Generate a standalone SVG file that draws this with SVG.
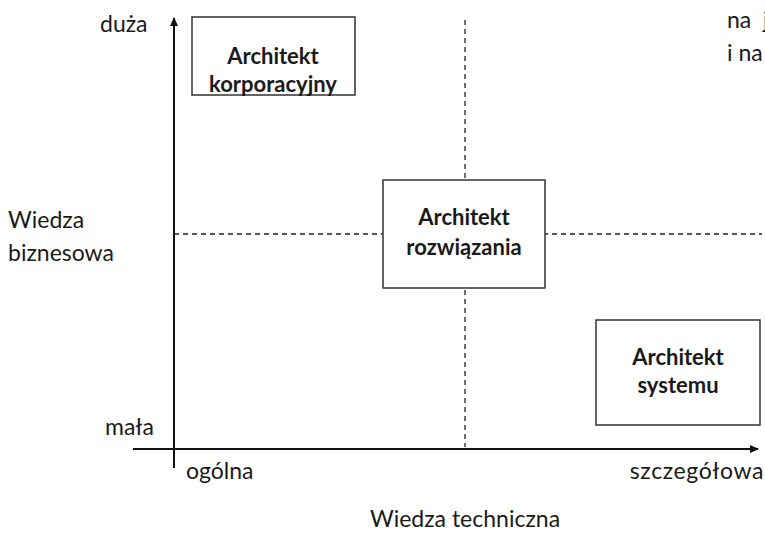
<svg xmlns="http://www.w3.org/2000/svg" width="765" height="533" viewBox="0 0 765 533">
<defs>
<style>
.lbl{font-family:Lato,"Open Sans","Liberation Sans",sans-serif;font-size:23px;fill:#1a1a1a}
.bt{font-family:Lato,"Open Sans","Liberation Sans",sans-serif;font-size:22px;font-weight:bold;fill:#1a1a1a;text-anchor:middle}
.box{fill:#fff;stroke:#333;stroke-width:1.5}
.axis{stroke:#111;stroke-width:2;fill:none}
.dash{stroke:#222;stroke-width:1.3;stroke-dasharray:5,4;fill:none}
</style>
<marker id="ah" markerWidth="10" markerHeight="10" refX="8" refY="5" orient="auto" markerUnits="userSpaceOnUse">
<path d="M0,1 L9,5 L0,9 Z" fill="#111"/>
</marker>
</defs>
<rect width="765" height="533" fill="#fff"/>
<g id="connectors">
<line class="dash" x1="465" y1="20" x2="465" y2="447"/>
<line class="dash" x1="174" y1="234" x2="762" y2="234"/>
<line class="axis" x1="174" y1="468" x2="174" y2="18" marker-end="url(#ah)"/>
<line class="axis" x1="133" y1="449" x2="758" y2="449" marker-end="url(#ah)"/>
</g>
<g id="node-korporacyjny">
<rect class="box" x="192" y="17" width="163" height="78"/>
<text class="bt" x="273" y="64">Architekt</text>
<text class="bt" x="273" y="92">korporacyjny</text>
</g>
<g id="node-rozwiazania">
<rect class="box" x="383" y="180" width="162" height="108"/>
<text class="bt" x="464" y="225">Architekt</text>
<text class="bt" x="464" y="255">rozwiązania</text>
</g>
<g id="node-systemu">
<rect class="box" x="596" y="320" width="164" height="105"/>
<text class="bt" x="678" y="365">Architekt</text>
<text class="bt" x="678" y="393">systemu</text>
</g>
<g id="labels">
<text class="lbl" x="100" y="32">duża</text>
<text class="lbl" x="8" y="228">Wiedza</text>
<text class="lbl" x="8" y="261">biznesowa</text>
<text class="lbl" x="105" y="435">mała</text>
<text class="lbl" x="186" y="479">ogólna</text>
<text class="lbl" x="764" y="479" text-anchor="end" letter-spacing="0.6">szczegółowa</text>
<text class="lbl" x="465" y="527" text-anchor="middle">Wiedza techniczna</text>
<text class="lbl" x="727" y="28">na <tspan x="763">j</tspan></text>
<text class="lbl" x="727" y="61">i na</text>
</g>
</svg>
